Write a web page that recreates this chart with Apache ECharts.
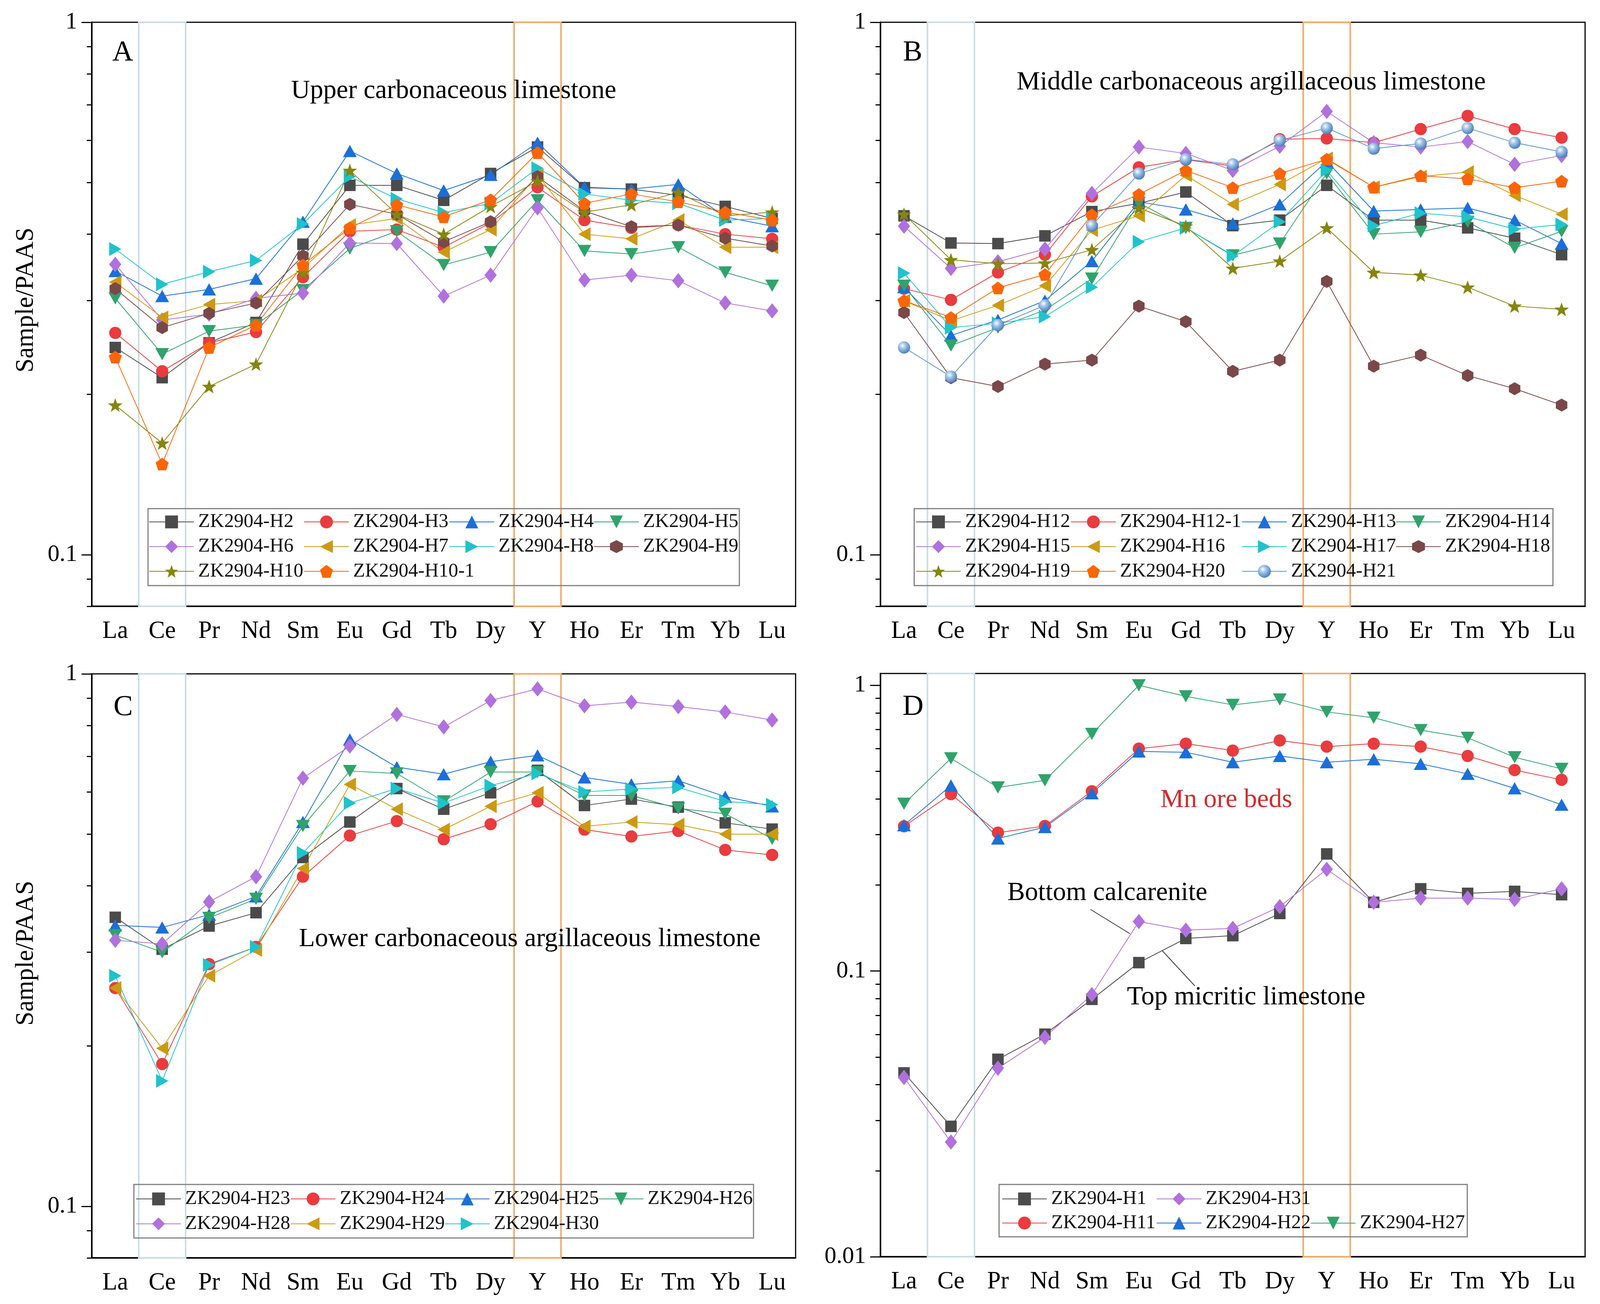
<!DOCTYPE html>
<html><head><meta charset="utf-8">
<script src="https://cdn.jsdelivr.net/npm/echarts@6/dist/echarts.min.js"></script>
<style>html,body{margin:0;padding:0;background:#fff;overflow:hidden}#c{position:absolute;left:0;top:0}</style>
</head><body><div id="c"></div>
<script>
// ---------- categories ----------
const elements = ['La','Ce','Pr','Nd','Sm','Eu','Gd','Tb','Dy','Y','Ho','Er','Tm','Yb','Lu'];

// ---------- Panel A: Upper carbonaceous limestone ----------
const H2   = [0.245,0.215,0.250,0.273,0.383,0.494,0.494,0.463,0.520,0.583,0.489,0.486,0.473,0.451,0.428];
const H3   = [0.261,0.221,0.250,0.262,0.332,0.405,0.408,0.378,0.420,0.490,0.425,0.411,0.416,0.400,0.392];
const H4   = [0.341,0.306,0.315,0.330,0.422,0.573,0.520,0.483,0.517,0.594,0.490,0.486,0.496,0.431,0.414];
const H5   = [0.303,0.238,0.263,0.270,0.314,0.376,0.405,0.350,0.370,0.463,0.372,0.367,0.378,0.339,0.320];
const H6   = [0.351,0.276,0.283,0.303,0.310,0.385,0.384,0.306,0.335,0.448,0.328,0.335,0.327,0.297,0.287];
const H7   = [0.325,0.279,0.295,0.300,0.345,0.416,0.428,0.370,0.408,0.516,0.400,0.392,0.425,0.378,0.378];
const H8   = [0.375,0.322,0.340,0.357,0.418,0.513,0.466,0.439,0.457,0.532,0.476,0.463,0.457,0.425,0.428];
const H9   = [0.316,0.267,0.284,0.297,0.364,0.455,0.436,0.387,0.422,0.513,0.442,0.413,0.416,0.393,0.380];
const H10  = [0.191,0.162,0.207,0.228,0.339,0.527,0.436,0.400,0.451,0.503,0.440,0.454,0.479,0.433,0.440];
const H10_1= [0.235,0.148,0.245,0.270,0.350,0.411,0.454,0.431,0.464,0.569,0.457,0.476,0.460,0.440,0.425];

// ---------- Panel B: Middle carbonaceous argillaceous limestone ----------
const H12  = [0.433,0.385,0.384,0.397,0.441,0.457,0.480,0.415,0.425,0.494,0.425,0.425,0.411,0.393,0.366];
const H12_1= [0.316,0.301,0.339,0.366,0.471,0.534,0.552,0.537,0.603,0.605,0.594,0.630,0.667,0.630,0.607];
const H13  = [0.318,0.258,0.276,0.300,0.356,0.460,0.445,0.419,0.455,0.548,0.442,0.445,0.448,0.425,0.384];
const H14  = [0.320,0.247,0.267,0.288,0.330,0.458,0.411,0.365,0.384,0.520,0.400,0.404,0.422,0.377,0.405];
const H15  = [0.414,0.345,0.355,0.375,0.477,0.583,0.567,0.527,0.585,0.680,0.594,0.583,0.597,0.541,0.562];
const H16  = [0.300,0.275,0.294,0.320,0.407,0.433,0.516,0.455,0.496,0.555,0.490,0.513,0.523,0.473,0.436];
const H17  = [0.338,0.267,0.272,0.280,0.318,0.387,0.411,0.364,0.422,0.527,0.415,0.438,0.431,0.409,0.417];
const H18  = [0.285,0.215,0.207,0.228,0.232,0.293,0.274,0.221,0.232,0.326,0.226,0.237,0.217,0.205,0.191];
const H19  = [0.436,0.358,0.352,0.353,0.374,0.448,0.414,0.345,0.356,0.411,0.339,0.335,0.318,0.293,0.289];
const H20  = [0.300,0.279,0.317,0.336,0.435,0.475,0.527,0.489,0.520,0.553,0.490,0.515,0.508,0.489,0.503];
const H21  = [0.245,0.216,0.270,0.294,0.415,0.520,0.553,0.541,0.600,0.633,0.579,0.592,0.633,0.594,0.571];

// ---------- Panel C: Lower carbonaceous argillaceous limestone ----------
const H23  = [0.349,0.304,0.336,0.356,0.452,0.527,0.609,0.557,0.598,0.659,0.566,0.582,0.562,0.525,0.511];
const H24  = [0.257,0.185,0.285,0.307,0.416,0.497,0.529,0.489,0.522,0.576,0.510,0.495,0.507,0.467,0.457];
const H25  = [0.337,0.334,0.353,0.382,0.527,0.753,0.668,0.648,0.684,0.703,0.639,0.620,0.630,0.588,0.564];
const H26  = [0.323,0.300,0.348,0.378,0.518,0.657,0.650,0.576,0.654,0.654,0.591,0.591,0.559,0.546,0.490];
const H28  = [0.316,0.311,0.373,0.416,0.637,0.732,0.839,0.795,0.891,0.937,0.871,0.885,0.868,0.848,0.819];
const H29  = [0.257,0.198,0.271,0.303,0.431,0.620,0.557,0.510,0.564,0.598,0.517,0.527,0.521,0.500,0.500];
const H30  = [0.271,0.172,0.284,0.307,0.461,0.572,0.609,0.572,0.617,0.650,0.600,0.608,0.612,0.576,0.568];

// ---------- Panel D: Mn ore beds, bottom calcarenite, top micritic limestone ----------
const H1   = [0.0440,0.0286,0.0491,0.0601,0.0796,0.107,0.130,0.133,0.159,0.257,0.174,0.194,0.187,0.190,0.185];
const H31  = [0.0424,0.0252,0.0457,0.0586,0.0827,0.149,0.139,0.141,0.168,0.227,0.174,0.180,0.180,0.178,0.194];
const H11  = [0.321,0.416,0.305,0.322,0.426,0.600,0.625,0.591,0.641,0.610,0.625,0.610,0.566,0.505,0.467];
const H22  = [0.324,0.446,0.291,0.319,0.419,0.587,0.583,0.538,0.566,0.538,0.551,0.531,0.490,0.436,0.382];
const H27  = [0.385,0.555,0.439,0.465,0.676,1.000,0.915,0.854,0.892,0.807,0.770,0.697,0.655,0.560,0.510];

// ---------- axis ticks ----------
const majorTicksABC = [0.1, 1];
const minorTicksABC = [0.08,0.09,0.2,0.3,0.4,0.5,0.6,0.7,0.8,0.9];
const majorTicksD = [0.01, 0.1, 1];
const minorTicksD = [0.02,0.03,0.04,0.05,0.06,0.07,0.08,0.09,0.2,0.3,0.4,0.5,0.6,0.7,0.8,0.9];
const ceBand = [0.5, 1.5];   // category boundaries around Ce
const yBand  = [8.5, 9.5];   // category boundaries around Y

// ---------- panel series lists ----------
const panelA = [['ZK2904-H2',H2,'square'],['ZK2904-H3',H3,'circle'],['ZK2904-H4',H4,'up'],['ZK2904-H5',H5,'down'],
  ['ZK2904-H6',H6,'diamond'],['ZK2904-H7',H7,'left'],['ZK2904-H8',H8,'right'],['ZK2904-H9',H9,'hex'],
  ['ZK2904-H10',H10,'star'],['ZK2904-H10-1',H10_1,'pent']];
const panelB = [['ZK2904-H12',H12,'square'],['ZK2904-H12-1',H12_1,'circle'],['ZK2904-H13',H13,'up'],['ZK2904-H14',H14,'down'],
  ['ZK2904-H15',H15,'diamond'],['ZK2904-H16',H16,'left'],['ZK2904-H17',H17,'right'],['ZK2904-H18',H18,'hex'],
  ['ZK2904-H19',H19,'star'],['ZK2904-H20',H20,'pent'],['ZK2904-H21',H21,'sphere']];
const panelC = [['ZK2904-H23',H23,'square'],['ZK2904-H24',H24,'circle'],['ZK2904-H25',H25,'up'],['ZK2904-H26',H26,'down'],
  ['ZK2904-H28',H28,'diamond'],['ZK2904-H29',H29,'left'],['ZK2904-H30',H30,'right']];
const panelD = [['ZK2904-H1',H1,'square'],['ZK2904-H31',H31,'diamond'],['ZK2904-H11',H11,'circle'],
  ['ZK2904-H22',H22,'up'],['ZK2904-H27',H27,'down']];

// ---------- page scale (layout designed for a 4183 x 3338 canvas) ----------
const VW = window.innerWidth || 4183, VH = window.innerHeight || 3338;
const SX = VW / 4183, SY = VH / 3338, S = Math.min(SX, SY);
const X = v => v * SX, Y = v => v * SY, K = v => v * S;
const el = document.getElementById('c');
el.style.width = VW + 'px'; el.style.height = VH + 'px';

// ---------- styles ----------
const FONT = 'Liberation Serif';
const STY = {
  square: {symbol:'rect', size:[30,30], rot:0, color:'#4b4b4b', line:'#4b4b4b'},
  circle: {symbol:'circle', size:[32,32], rot:0, color:'#ea3b3e', line:'#ea3b3e'},
  up:     {symbol:'triangle', size:[36,32], rot:0, color:'#1b6fd9', line:'#1b6fd9'},
  down:   {symbol:'triangle', size:[36,32], rot:180, color:'#2fa36b', line:'#2fa36b'},
  diamond:{symbol:'diamond', size:[32,40], rot:0, color:'#b071de', line:'#b071de'},
  left:   {symbol:'triangle', size:[36,32], rot:90, color:'#cc9a12', line:'#cc9a12'},
  right:  {symbol:'triangle', size:[36,32], rot:-90, color:'#1ec3cc', line:'#1ec3cc'},
  hex:    {symbol:'path://M0,-10 L8.66,-5 L8.66,5 L0,10 L-8.66,5 L-8.66,-5 Z', size:[30,34], rot:0, color:'#7a4849', line:'#7a4849'},
  star:   {symbol:'path://M0,-10 L2.35,-3.24 L9.51,-3.09 L3.8,1.24 L5.88,8.09 L0,4 L-5.88,8.09 L-3.8,1.24 L-9.51,-3.09 L-2.35,-3.24 Z', size:[38,36], rot:0, color:'#858510', line:'#858510'},
  pent:   {symbol:'path://M0,-10 L9.51,-3.09 L5.88,8.09 L-5.88,8.09 L-9.51,-3.09 Z', size:[34,33], rot:0, color:'#fb6507', line:'#fb6507'},
  sphere: {symbol:'circle', size:[32,32], rot:0, line:'#5d93cb',
    color:{type:'radial', x:0.38, y:0.35, r:0.7, colorStops:[{offset:0,color:'#ffffff'},{offset:0.35,color:'#a3c6e8'},{offset:1,color:'#3f78b8'}]}}
};

const GRIDS = [
  {left:240,  top:57,   width:1840, height:1495, min:0.08, max:1,   major:majorTicksABC, minor:minorTicksABC, list:panelA},
  {left:2302, top:57,   width:1842, height:1495, min:0.08, max:1,   major:majorTicksABC, minor:minorTicksABC, list:panelB},
  {left:240,  top:1725, width:1840, height:1495, min:0.08, max:1,   major:majorTicksABC, minor:minorTicksABC, list:panelC},
  {left:2302, top:1724, width:1842, height:1493, min:0.01, max:1.1, major:majorTicksD,   minor:minorTicksD,   list:panelD}
];

const grid = [], xAxis = [], yAxis = [], series = [];
GRIDS.forEach((g, i) => {
  grid.push({left:X(g.left), top:Y(g.top), width:X(g.width), height:Y(g.height), show:true, borderColor:'#000', borderWidth:K(3),
    backgroundColor:'rgba(0,0,0,0)', containLabel:false, outerBoundsMode:'none'});
  xAxis.push({type:'category', gridIndex:i, data:elements, boundaryGap:true, position:'bottom',
    axisLine:{onZero:false, lineStyle:{color:'#000', width:K(4)}},
    axisTick:{alignWithLabel:true, length:K(24), inside:false, lineStyle:{color:'#000', width:K(3)}},
    axisLabel:{fontFamily:FONT, fontSize:K(64), color:'#000', margin:K(34)},
    splitLine:{show:false}});
  xAxis.push({type:'value', gridIndex:i, min:-0.5, max:14.5, show:false, position:'bottom',
    axisLine:{onZero:false}, splitLine:{show:false}});
  yAxis.push({type:'log', logBase:10, gridIndex:i, min:g.min, max:g.max, position:'left',
    axisLine:{show:true, onZero:false, lineStyle:{color:'#000', width:K(4)}},
    axisTick:{show:false}, splitLine:{show:false},
    axisLabel:{fontFamily:FONT, fontSize:K(62), color:'#000', margin:K(38),
      formatter: v => { const l = Math.log10(v); return Math.abs(l - Math.round(l)) < 1e-6 ? String(+Math.pow(10, Math.round(l)).toPrecision(3)) : ''; }}});
  [[g.major, 27], [g.minor, 13]].forEach(([vals, len]) => {
    yAxis.push({type:'value', gridIndex:i, min:Math.log10(g.min), max:Math.log10(g.max), position:'left',
      axisLine:{show:false, onZero:false}, axisLabel:{show:false}, splitLine:{show:false},
      axisTick:{show:true, inside:false, length:K(len), customValues:vals.map(v => Math.log10(v)), lineStyle:{color:'#000', width:K(3)}}});
  });
  // reference bands (Ce and Y)
  series.push({type:'line', xAxisIndex:2*i+1, yAxisIndex:3*i+1, data:[], silent:true, z:1,
    markArea:{silent:true, z:1, label:{show:false}, data:[
      [{xAxis:ceBand[0], itemStyle:{color:'rgba(0,0,0,0)', borderColor:'#c9dce5', borderWidth:K(4)}}, {xAxis:ceBand[1]}],
      [{xAxis:yBand[0], itemStyle:{color:'rgba(0,0,0,0)', borderColor:'#f2a966', borderWidth:K(4)}}, {xAxis:yBand[1]}]
    ]}});
  g.list.forEach(([name, vals, key]) => {
    const s = STY[key];
    series.push({type:'line', name, xAxisIndex:2*i, yAxisIndex:3*i, data:vals, z:3,
      symbol:s.symbol, symbolSize:s.size.map(K), symbolRotate:s.rot, showSymbol:true,
      itemStyle:{color:s.color, borderWidth:0}, lineStyle:{color:s.line, width:K(2)},
      emphasis:{disabled:true}});
  });
});

// ---------- legends (one per column) ----------
function col(names, left, top, gap) {
  return {show:true, orient:'vertical', left:X(left), top:Y(top), data:names, itemWidth:K(117), itemHeight:K(42), itemGap:K(gap), padding:0,
    selectedMode:false, symbolRotate:'inherit',
    textStyle:{fontFamily:FONT, fontSize:K(51), color:'#111', lineHeight:K(50), padding:[0,0,0,K(6)]}};
}
const legend = [
  col(['ZK2904-H2','ZK2904-H6','ZK2904-H10'], 389, 1311, 13.5),
  col(['ZK2904-H3','ZK2904-H7','ZK2904-H10-1'], 794, 1311, 13.5),
  col(['ZK2904-H4','ZK2904-H8'], 1174, 1311, 13.5),
  col(['ZK2904-H5','ZK2904-H9'], 1552, 1311, 13.5),
  col(['ZK2904-H12','ZK2904-H15','ZK2904-H19'], 2394, 1311, 13.5),
  col(['ZK2904-H12-1','ZK2904-H16','ZK2904-H20'], 2799, 1311, 13.5),
  col(['ZK2904-H13','ZK2904-H17','ZK2904-H21'], 3246, 1311, 13.5),
  col(['ZK2904-H14','ZK2904-H18'], 3649, 1311, 13.5),
  col(['ZK2904-H23','ZK2904-H28'], 355, 3044, 14),
  col(['ZK2904-H24','ZK2904-H29'], 759, 3044, 14),
  col(['ZK2904-H25','ZK2904-H30'], 1162, 3044, 14),
  col(['ZK2904-H26'], 1564, 3044, 14),
  col(['ZK2904-H1','ZK2904-H11'], 2619, 3044, 12),
  col(['ZK2904-H31','ZK2904-H22'], 3023, 3044, 12),
  col(['ZK2904-H27'], 3426, 3106, 12)
];

// ---------- texts & decorations ----------
function txt(text, x, y, size, color, rot) {
  return {type:'text', x:X(x), y:Y(y), rotation:rot || 0, z:50, silent:true,
    style:{text, fontFamily:FONT, fontSize:K(size), fill:color || '#000',
      align:'center', verticalAlign:'middle', textAlign:'center', textVerticalAlign:'middle'}};
}
function box(x, y, w, h) {
  return {type:'rect', z:40, silent:true, shape:{x:X(x), y:Y(y), width:X(w), height:Y(h)},
    style:{fill:'rgba(0,0,0,0)', stroke:'#808080', lineWidth:K(3)}};
}
function seg(x1, y1, x2, y2) {
  return {type:'line', z:40, silent:true, shape:{x1:X(x1), y1:Y(y1), x2:X(x2), y2:Y(y2)}, style:{stroke:'#333', lineWidth:K(2)}};
}
const graphicEls = [
  txt('A', 321, 135, 76), txt('B', 2386, 135, 76), txt('C', 322, 1811, 76), txt('D', 2387, 1810, 76),
  txt('Upper carbonaceous limestone', 1186, 233, 69),
  txt('Middle carbonaceous argillaceous limestone', 3271, 211, 69),
  txt('Lower carbonaceous argillaceous limestone', 1385, 2404, 69),
  txt('Mn ore beds', 3206, 2048, 69, '#d42a2c'),
  txt('Bottom calcarenite', 2895, 2286, 69),
  txt('Top micritic limestone', 3258, 2553, 69),
  txt('Sample/PAAS', 68, 768, 66, '#000', Math.PI/2),
  txt('Sample/PAAS', 68, 2440, 66, '#000', Math.PI/2),
  seg(2851, 2328, 2954, 2390), seg(3039, 2434, 3124, 2524),
  box(387, 1302, 1546, 197), box(2390, 1302, 1670, 197), box(350, 3032, 1620, 137), box(2612, 3032, 1224, 134)
];

const chart = echarts.init(el, null, {renderer:'canvas', width:VW, height:VH});
chart.setOption({
  animation:false, backgroundColor:'#ffffff',
  grid, xAxis, yAxis, series, legend,
  graphic:{elements:graphicEls}
});
</script></body></html>
